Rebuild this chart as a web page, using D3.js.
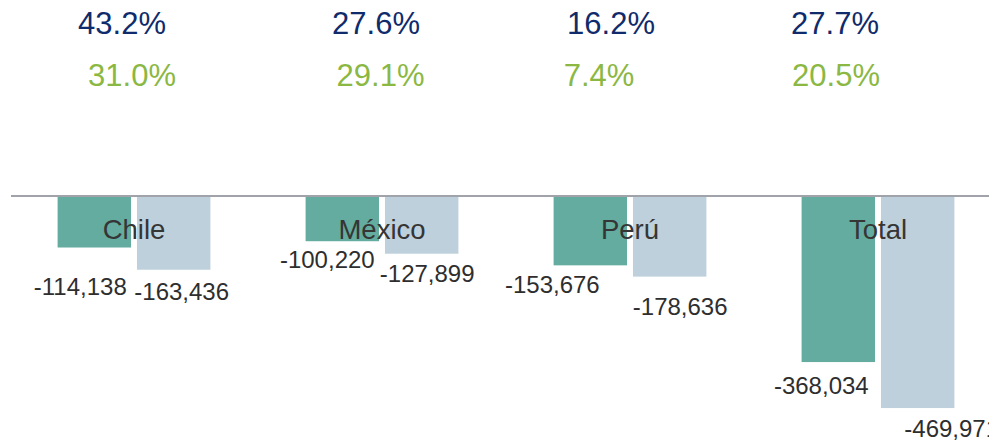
<!DOCTYPE html>
<html>
<head>
<meta charset="utf-8">
<script src="https://cdn.jsdelivr.net/npm/d3@7"></script>
<style>
  html, body { margin: 0; padding: 0; background: #fff; }
  svg { display: block; font-family: "Liberation Sans", Arial, sans-serif; }
</style>
</head>
<body>
<svg id="chart" width="989" height="444"></svg>
<script>
// Countries plus the aggregate
const categories = ["Chile", "México", "Perú", "Total"];
// Two series of (negative) values per country
const seriesNames = ["serie1", "serie2"];
const serie1 = [-114138, -100220, -153676, -368034];
const serie2 = [-163436, -127899, -178636, -469971];
// Percentage rows shown above each group
const pctRow1 = [43.2, 27.6, 16.2, 27.7];
const pctRow2 = [31.0, 29.1, 7.4, 20.5];

const colors = { serie1: "#63ac9f", serie2: "#bdd0db" };
const pctColors = ["#0f2b6b", "#8bb843"];

const svg = d3.select("#chart");
const W = 989, H = 444;

const rows = categories.map((c, i) => ({
  cat: c,
  vals: [
    { key: "serie1", v: serie1[i] },
    { key: "serie2", v: serie2[i] }
  ]
}));

// Scales
const x0 = d3.scaleBand().domain(categories).range([10, 1002]).padding(0);
const x1 = d3.scaleBand().domain(seriesNames).range([47.6, 200.4]).paddingInner(0.075);
const y = d3.scaleLinear().domain([0, -500000]).range([196, 421.6]);

// Bars
const groups = svg.append("g").selectAll("g").data(rows).join("g")
  .attr("transform", d => `translate(${x0(d.cat)},0)`);

groups.selectAll("rect").data(d => d.vals).join("rect")
  .attr("x", d => x1(d.key))
  .attr("width", x1.bandwidth())
  .attr("y", y(0))
  .attr("height", d => y(d.v) - y(0))
  .attr("fill", d => colors[d.key]);

// Zero line
svg.append("line")
  .attr("x1", 11).attr("x2", W)
  .attr("y1", y(0)).attr("y2", y(0))
  .attr("stroke", "#a0a4aa").attr("stroke-width", 2);

// Category names sit across the pair of bars
svg.append("g").selectAll("text").data(categories).join("text")
  .attr("x", d => x0(d) + x0.bandwidth() / 2)
  .attr("y", y(0) + 43)
  .attr("text-anchor", "middle")
  .attr("font-size", 27.5)
  .attr("fill", "#353535")
  .text(d => d);

// Value labels below each bar, with hand-placed offsets [dx, dy]
const labelOffset = {
  Chile:   { serie1: [-14, 47.5], serie2: [8, 30] },
  "México":{ serie1: [-15, 27],   serie2: [5.5, 28] },
  "Perú":  { serie1: [-38, 28],   serie2: [10.5, 38.5] },
  Total:   { serie1: [-17, 32],   serie2: [34, 29] }
};
const fmt = d3.format(",");
groups.selectAll("text.val").data(d => d.vals.map(v => ({ ...v, cat: d.cat }))).join("text")
  .attr("class", "val")
  .attr("x", d => x1(d.key) + x1.bandwidth() / 2 + labelOffset[d.cat][d.key][0])
  .attr("y", d => y(d.v) + labelOffset[d.cat][d.key][1])
  .attr("text-anchor", "middle")
  .attr("font-size", 24)
  .attr("fill", "#2e2e2e")
  .text(d => fmt(d.v).replace("−", "-"));

// Percentage rows
const pctShift = [
  [-12, -6, -19, -43],
  [-2, -1.5, -31, -42]
];
[pctRow1, pctRow2].forEach((row, r) => {
  svg.append("g").selectAll("text").data(row).join("text")
    .attr("x", (d, i) => x0(categories[i]) + x0.bandwidth() / 2 + pctShift[r][i])
    .attr("y", r === 0 ? 34 : 86)
    .attr("text-anchor", "middle")
    .attr("font-size", 31)
    .attr("fill", pctColors[r])
    .text(d => d.toFixed(1) + "%");
});
</script>
</body>
</html>
